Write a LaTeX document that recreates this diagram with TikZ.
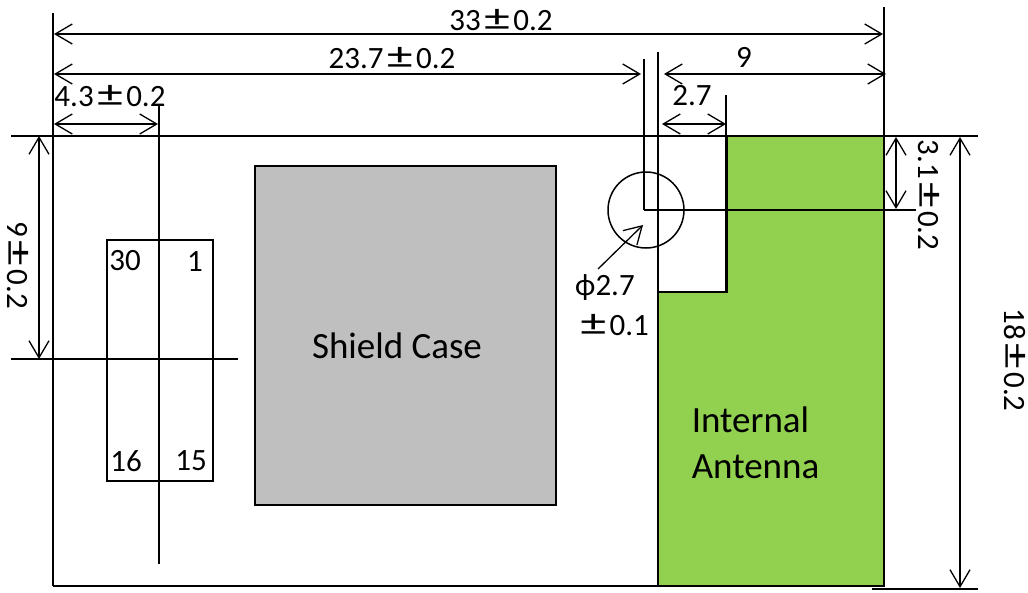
\documentclass[tikz,border=0pt]{standalone}
\usepackage{fontspec}
\setmainfont{Carlito}
\usetikzlibrary{arrows.meta,positioning}
\definecolor{antgreen}{HTML}{92D050}
\definecolor{shieldgray}{HTML}{BFBFBF}
\newcommand{\plusmin}{\makebox[1.05em]{\scalebox{1.65}[1.2]{±}}}

\begin{document}
\begin{tikzpicture}[x=1pt,y=-1pt,line width=1.5pt,
    lbl/.style={inner sep=0pt,font=\fontsize{31}{36}\selectfont},
    biglbl/.style={inner sep=0pt,font=\fontsize{37}{46}\selectfont},
    dim/.style={{Straight Barb[length=17pt,width=20pt]}-{Straight Barb[length=17pt,width=20pt]},line width=1.3pt},
    box/.style={draw,inner sep=0pt,anchor=north west}]
  \useasboundingbox (0,0) rectangle (1028,592);
  % bodies
  \node[box,fill=shieldgray,minimum width=301pt,minimum height=339pt] (shield) at (254,165) {};
  \filldraw[fill=antgreen,line width=2pt] (727,136) -- (884,136) -- (884,586) -- (658,586)
  -- (658,292) -- (727,292) -- cycle;
  \node[box,minimum width=106pt,minimum height=241pt] (conn) at (106,239) {};
  \node[circle,draw,minimum size=76pt,inner sep=0pt] (hole) at (646,210) {};
  % extension lines
  \foreach \N/\XA/\YA/\XB/\YB in {top/11/136/978/136,left/53/13/53/586,right/884/7/884/586,
    bot/53/586/884/586,foot/872/589/978/589,mid/11/359/238/359,pin/159/105/159/564,
    ant/658/52/658/586,holev/644/59/644/210,holeh/644/210/916/210,step/726/95/726/292}
    {\coordinate (\N a) at (\XA,\YA);
     \coordinate (\N b) at (\XB,\YB);
     \draw (\N a) -- (\N b);}
  % dimensions
  \foreach \N/\XA/\YA/\XB/\YB in {total/54/34/883/34,hole/54/74/641/74,ant/664/74/886/74,
    step/662/124/726/124,pin/54/124/158/124,holey/896/137/896/209,height/960/137/960/588,
    miny/39/136/39/359}
    {\coordinate (d\N a) at (\XA,\YA);
     \coordinate (d\N b) at (\XB,\YB);
     \draw[dim] (d\N a) -- (d\N b);}
  \coordinate (phitail) at (598,269);
  \coordinate (phitip) at (643,225);
  \draw[line width=1.3pt,-{Straight Barb[length=17pt,width=20pt]}] (phitail) -- (phitip);
  % labels
  \node[lbl] (ltotal) at (501,20) {33\plusmin0.2};
  \node[lbl] (lhole) at (392,58) {23.7\plusmin0.2};
  \node[lbl] (lant) at (744,57) {9};
  \node[lbl] (lstep) at (692,96) {2.7};
  \node[lbl] (lpin) at (110,96) {4.3\plusmin0.2};
  \node[lbl,rotate=-90] (lholey) at (929,195) {3.1\plusmin0.2};
  \node[lbl,rotate=-90] (lheight) at (1015,360) {18\plusmin0.2};
  \node[lbl,rotate=-90] (lminy) at (18,265) {9\plusmin0.2};
  \foreach \N/\X/\Y in {30/125/261,1/195/262,16/126/461,15/191/461}
    {\node[lbl] (p\N) at (\X,\Y) {\N};}
  \node[biglbl] (lshield) at (397,346) {Shield Case};
  \node[biglbl,align=left,anchor=north west] (lantenna) at (691,406) {Internal\\Antenna};
  \node[lbl] (lphi) at (605,288) {ϕ2.7};
  \node[lbl] (ltol) at (613,325) {\plusmin0.1};
\end{tikzpicture}
\end{document}
